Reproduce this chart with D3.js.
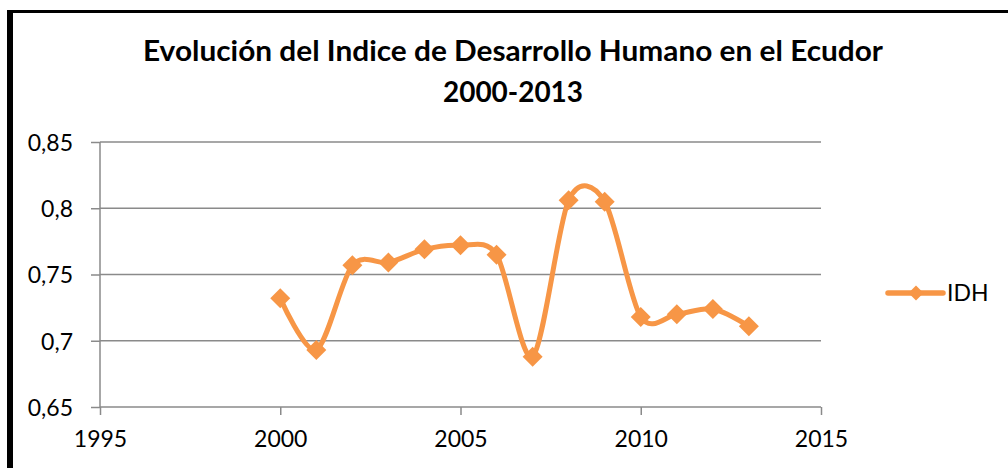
<!DOCTYPE html>
<html>
<head>
<meta charset="utf-8">
<script src="https://cdn.jsdelivr.net/npm/d3@7"></script>
<style>
  body { margin: 0; background: #fff; }
  text { font-family: Lato, "Open Sans", sans-serif; fill: #000; }
</style>
</head>
<body>
<svg></svg>
<script>
// data
const years = [2000, 2001, 2002, 2003, 2004, 2005, 2006, 2007, 2008, 2009, 2010, 2011, 2012, 2013];
const idh = [0.732, 0.693, 0.757, 0.759, 0.769, 0.772, 0.765, 0.688, 0.806, 0.805, 0.718, 0.720, 0.724, 0.711];
const xTicks = [1995, 2000, 2005, 2010, 2015];
const yTicks = [0.65, 0.7, 0.75, 0.8, 0.85];
const seriesName = "IDH";
const titleLines = ["Evolución del Indice de Desarrollo Humano en el Ecudor", "2000-2013"];

const W = 1008, H = 468;
const plot = { left: 100, right: 821, top: 142, bottom: 407 };
const orange = "#f79646";
const grid = "#8a8a8a";

const svg = d3.select('svg')
    .attr('width', W)
    .attr('height', H);

// frame (only top and left edges show in the crop)
svg.append('line')
    .attr('x1', 7).attr('x2', W).attr('y1', 11.5).attr('y2', 11.5)
    .attr('stroke', '#000').attr('stroke-width', 3);
svg.append('line')
    .attr('x1', 10).attr('x2', 10).attr('y1', 10).attr('y2', H)
    .attr('stroke', '#000').attr('stroke-width', 6);

// title
svg.append('text')
    .attr('x', 513).attr('y', 61)
    .attr('text-anchor', 'middle')
    .attr('font-size', 28).attr('font-weight', 'bold')
    .attr('textLength', 740).attr('lengthAdjust', 'spacingAndGlyphs')
    .text(titleLines[0]);
svg.append('text')
    .attr('x', 513).attr('y', 102)
    .attr('text-anchor', 'middle')
    .attr('font-size', 28).attr('font-weight', 'bold')
    .attr('textLength', 140).attr('lengthAdjust', 'spacingAndGlyphs')
    .text(titleLines[1]);

const x = d3.scaleLinear().domain([1995, 2015]).range([plot.left, plot.right]);
const y = d3.scaleLinear().domain([0.65, 0.85]).range([plot.bottom, plot.top]);
const fmt = d => String(d).replace('.', ',');

// horizontal grid lines
svg.append('g')
    .selectAll('line')
    .data(yTicks.slice(1))
    .join('line')
    .attr('x1', plot.left).attr('x2', plot.right)
    .attr('y1', d => y(d)).attr('y2', d => y(d))
    .attr('stroke', grid).attr('stroke-width', 1.5);

// y axis
const yAxis = svg.append('g')
    .attr('transform', `translate(${plot.left},0)`)
    .call(d3.axisLeft(y).tickValues(yTicks).tickFormat(fmt).tickSize(9).tickPadding(18));
// x axis
const xAxis = svg.append('g')
    .attr('transform', `translate(0,${plot.bottom})`)
    .call(d3.axisBottom(x).tickValues(xTicks).tickFormat(d3.format('d')).tickSize(8).tickPadding(16));

[yAxis, xAxis].forEach(a => {
    a.select('.domain').attr('stroke', grid).attr('stroke-width', 1.5);
    a.selectAll('.tick line').attr('stroke', grid).attr('stroke-width', 1.5);
    a.selectAll('text').attr('font-size', 23).attr('font-family', 'Lato, sans-serif').attr('fill', '#000');
});
// plain axis lines without the end ticks
yAxis.select('.domain').attr('d', `M0,${plot.top}V${plot.bottom}`);
xAxis.select('.domain').attr('d', `M${plot.left},0H${plot.right}`);
yAxis.selectAll('text').attr('dy', '0.36em');

// smoothed series line
const pts = years.map((yr, i) => [yr, idh[i]]);
const line = d3.line()
    .x(d => x(d[0]))
    .y(d => y(d[1]))
    .curve(d3.curveCardinal.tension(0.12));
svg.append('path')
    .datum(pts)
    .attr('d', line)
    .attr('fill', 'none')
    .attr('stroke', orange)
    .attr('stroke-width', 5)
    .attr('stroke-linejoin', 'round');

// diamond markers
const diamond = (r) => `M0,${-r}L${r},0L0,${r}L${-r},0Z`;
svg.append('g')
    .selectAll('path')
    .data(pts)
    .join('path')
    .attr('transform', d => `translate(${x(d[0])},${y(d[1])})`)
    .attr('d', diamond(10))
    .attr('fill', orange);

// legend
const lg = svg.append('g').attr('transform', 'translate(888,293)');
lg.append('line')
    .attr('x1', 0).attr('x2', 55)
    .attr('stroke', orange).attr('stroke-width', 5.5).attr('stroke-linecap', 'round');
lg.append('path')
    .attr('transform', 'translate(28,0)')
    .attr('d', diamond(7.5))
    .attr('fill', orange);
lg.append('text')
    .attr('x', 59).attr('dy', '0.36em')
    .attr('font-size', 23)
    .text(seriesName);
</script>
</body>
</html>
